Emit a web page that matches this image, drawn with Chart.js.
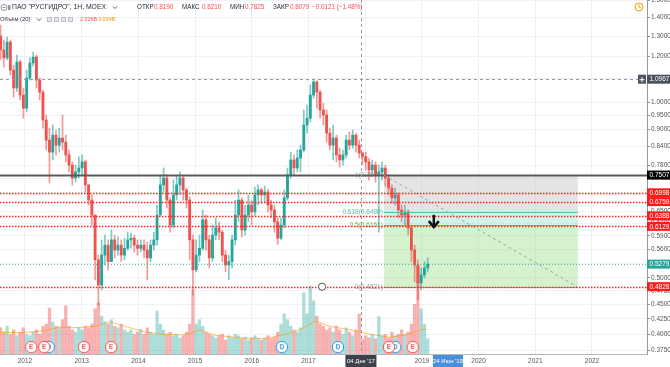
<!DOCTYPE html>
<html>
<head>
<meta charset="utf-8">
<script src="https://cdn.jsdelivr.net/npm/chart.js@4.4.1/dist/chart.umd.min.js"></script>
<style>
  html, body { margin: 0; padding: 0; background: #ffffff; }
  canvas { display: block; }
</style>
</head>
<body>
<canvas id="chart" width="670" height="367"></canvas>
<script>
const candleStart = 2011.57;
const candleStep = 0.0575;
const firstOpen = 1.30;

const closes = [
  1.231, 1.193, 1.270, 1.137, 1.059, 1.174, 1.030, 0.978, 1.102, 1.169,
  1.197, 1.093, 1.042, 0.933, 0.862, 0.822, 0.879, 0.845, 0.869, 0.855,
  0.813, 0.781, 0.742, 0.760, 0.772, 0.791, 0.722, 0.680, 0.641, 0.537,
  0.486, 0.547, 0.569, 0.533, 0.581, 0.558, 0.569, 0.547, 0.562, 0.581,
  0.585, 0.569, 0.562, 0.569, 0.558, 0.541, 0.569, 0.581, 0.641, 0.722,
  0.742, 0.680, 0.616, 0.694, 0.722, 0.742, 0.708, 0.680, 0.581, 0.516,
  0.547, 0.562, 0.629, 0.581, 0.541, 0.592, 0.609, 0.599, 0.547, 0.526,
  0.533, 0.581, 0.641, 0.680, 0.604, 0.641, 0.667, 0.649, 0.694, 0.708,
  0.694, 0.702, 0.667, 0.654, 0.624, 0.585, 0.616, 0.686, 0.751, 0.797,
  0.772, 0.803, 0.829, 0.915, 0.940, 1.030, 1.085, 1.042, 0.971, 0.952,
  0.886, 0.845, 0.869, 0.813, 0.797, 0.813, 0.862, 0.845, 0.879, 0.845,
  0.819, 0.8079, 0.791, 0.766, 0.781, 0.751, 0.760, 0.772, 0.742, 0.713,
  0.686, 0.694, 0.654, 0.641, 0.649, 0.609, 0.558, 0.526, 0.490, 0.506,
  0.520, 0.5279
];
const highs = [
  1.358, 1.280, 1.296, 1.280, 1.160, 1.207, 1.183, 1.059, 1.137, 1.193,
  1.221, 1.207, 1.102, 1.051, 0.952, 0.904, 0.915, 0.897, 0.904, 0.952,
  0.879, 0.829, 0.791, 0.781, 0.807, 0.813, 0.797, 0.722, 0.694, 0.641,
  0.547, 0.581, 0.592, 0.581, 0.604, 0.592, 0.588, 0.581, 0.585, 0.599,
  0.597, 0.592, 0.581, 0.581, 0.581, 0.576, 0.581, 0.599, 0.667, 0.751,
  0.772, 0.752, 0.686, 0.736, 0.751, 0.760, 0.748, 0.713, 0.688, 0.592,
  0.581, 0.592, 0.654, 0.641, 0.592, 0.616, 0.634, 0.624, 0.604, 0.558,
  0.547, 0.592, 0.680, 0.708, 0.686, 0.667, 0.694, 0.680, 0.716, 0.722,
  0.713, 0.719, 0.710, 0.680, 0.667, 0.634, 0.634, 0.708, 0.772, 0.822,
  0.813, 0.829, 0.845, 0.971, 0.990, 1.072, 1.097, 1.090, 1.051, 0.998,
  0.971, 0.904, 0.915, 0.879, 0.835, 0.829, 0.879, 0.890, 0.897, 0.885,
  0.862, 0.821, 0.822, 0.803, 0.797, 0.791, 0.781, 0.791, 0.781, 0.751,
  0.722, 0.713, 0.700, 0.667, 0.667, 0.654, 0.616, 0.569, 0.537, 0.520,
  0.533, 0.541
];
const lows = [
  1.183, 1.151, 1.183, 1.115, 1.022, 1.045, 1.010, 0.940, 0.965, 1.093,
  1.155, 1.059, 1.010, 0.904, 0.829, 0.728, 0.797, 0.813, 0.822, 0.829,
  0.791, 0.760, 0.722, 0.730, 0.742, 0.751, 0.702, 0.667, 0.616, 0.496,
  0.449, 0.477, 0.526, 0.516, 0.533, 0.541, 0.547, 0.533, 0.537, 0.558,
  0.562, 0.554, 0.547, 0.554, 0.541, 0.496, 0.533, 0.558, 0.569, 0.641,
  0.702, 0.659, 0.599, 0.609, 0.680, 0.694, 0.680, 0.659, 0.537, 0.467,
  0.512, 0.533, 0.558, 0.558, 0.520, 0.533, 0.581, 0.581, 0.533, 0.512,
  0.496, 0.520, 0.569, 0.624, 0.588, 0.592, 0.624, 0.616, 0.640, 0.667,
  0.672, 0.675, 0.649, 0.634, 0.599, 0.571, 0.581, 0.609, 0.680, 0.742,
  0.751, 0.760, 0.760, 0.822, 0.886, 0.926, 1.018, 0.978, 0.940, 0.915,
  0.855, 0.829, 0.797, 0.791, 0.775, 0.781, 0.803, 0.829, 0.835, 0.822,
  0.803, 0.7825, 0.766, 0.736, 0.748, 0.730, 0.599, 0.736, 0.719, 0.694,
  0.672, 0.667, 0.634, 0.624, 0.616, 0.592, 0.533, 0.492, 0.458, 0.477,
  0.500, 0.512
];
// volume, billions
const volumes = [
  3.6, 3.0, 3.8, 2.7, 3.3, 2.5, 3.0, 3.6, 2.7, 2.5,
  3.0, 3.3, 2.7, 3.8, 4.1, 6.3, 4.4, 3.8, 3.6, 4.7,
  6.6, 3.8, 3.3, 3.0, 3.6, 3.3, 3.8, 3.6, 4.1, 6.2,
  7.0, 5.2, 4.4, 4.1, 4.7, 3.8, 3.6, 4.1, 3.3, 3.0,
  3.3, 2.7, 3.0, 3.4, 2.7, 3.6, 3.0, 2.7, 5.9, 4.1,
  3.3, 2.7, 3.0, 2.5, 2.7, 2.2, 2.5, 3.0, 4.1, 8.8,
  4.1, 4.7, 3.8, 3.0, 2.7, 2.5, 2.2, 2.5, 2.7, 1.9,
  2.5, 2.2, 2.7, 2.5, 2.1, 2.3, 1.9, 2.2, 2.5, 2.1,
  1.9, 2.2, 2.5, 2.1, 2.3, 3.0, 4.1, 5.5, 4.7, 3.8,
  3.3, 3.0, 3.6, 8.4, 5.5, 9.3, 7.3, 5.2, 4.1, 3.8,
  3.3, 3.6, 3.0, 3.8, 3.3, 2.7, 3.6, 3.0, 2.5, 3.3,
  5.5, 2.0, 2.5, 2.2, 2.7, 2.1, 5.1, 2.5, 2.7, 2.2,
  3.0, 2.5, 2.7, 3.3, 2.7, 3.0, 4.1, 6.8, 12.0, 6.2,
  4.1, 2.1
];
// volume MA(20), read at a few dates
const maDates = [2011.56, 2011.91, 2012.35, 2012.62, 2012.88, 2013.24, 2013.50, 2013.76, 2014.12,
  2014.47, 2014.82, 2015.09, 2015.35, 2015.79, 2016.23, 2016.59, 2016.85, 2017.12, 2017.38,
  2017.73, 2018.09, 2018.44, 2018.70, 2018.97, 2019.09];
const maValues = [3.0, 2.9, 3.2, 3.7, 3.6, 3.8, 4.4, 3.8, 3.0,
  2.7, 2.6, 3.3, 2.6, 2.2, 2.1, 2.7, 3.3, 4.5, 3.8,
  3.3, 2.7, 2.3, 2.6, 3.3, 3.4];

const earningsDates = [2012.11, 2012.34, 2013.04, 2013.52, 2018.42, 2018.84];
const dividendDates = [2012.42, 2016.53, 2017.52, 2018.53];
const markerLevel = 0.95;

const yTicks = [1.5, 1.4, 1.3, 1.2, 1.1, 1.0, 0.95, 0.9, 0.84, 0.78, 0.74, 0.70, 0.65, 0.62,
  0.59, 0.56, 0.53, 0.50, 0.475, 0.45, 0.425, 0.40, 0.375];
const yearTicks = [2012, 2013, 2014, 2015, 2016, 2017, 2018, 2019, 2020, 2021, 2022];

// drawings
const redLevels = [0.6998, 0.6759, 0.6388, 0.6129, 0.4828];
const blackLevel = 0.7507;
const lastClose = 0.5279;
const fibLevels = ['1', '0.618', '0.5', '0'];
const fibPrices = [0.7507, 0.6480, 0.6161, 0.4821];
const fibColors = ['#9e9e9e', '#5cc0a8', '#7cb342', '#9e9e9e'];
const fibStart = 2018.33;
const fibEnd = 2021.75;
const crossDate = 2017.925;
const crossPrice = 1.0967;
const arrowDate = 2019.21;
const arrowTop = 0.642;
const arrowBottom = 0.611;
const ringDate = 2017.24;
const ringPrice = 0.4828;
const endDate = 2019.46;

const FONT = '"Liberation Sans", Arial, sans-serif';
const UP = '#26a69a';
const DOWN = '#ef5350';
Chart.defaults.font.family = FONT;

const dates = closes.map((c, i) => candleStart + i * candleStep);
const opens = closes.map((c, i) => (i === 0 ? firstOpen : closes[i - 1]));
const isUp = closes.map((c, i) => c >= opens[i]);

function makeIcon(letter, color) {
  const cv = document.createElement('canvas');
  cv.width = 14; cv.height = 14;
  const g = cv.getContext('2d');
  g.beginPath(); g.arc(7, 7, 5.7, 0, Math.PI * 2);
  g.fillStyle = '#fff'; g.fill();
  g.lineWidth = 1; g.strokeStyle = color; g.stroke();
  g.fillStyle = color; g.font = 'bold 6.5px ' + FONT;
  g.textAlign = 'center'; g.textBaseline = 'middle';
  g.fillText(letter, 7, 7.5);
  return cv;
}

const drawings = {
  id: 'drawings',
  beforeDatasetsDraw(chart) {
    const { ctx, scales: { x, y } } = chart;
    const x1 = x.getPixelForValue(fibStart);
    const x2 = x.getPixelForValue(fibEnd);
    const fy = fibPrices.map(p => y.getPixelForValue(p));
    ctx.save();
    ctx.fillStyle = 'rgba(190,190,190,0.42)';
    ctx.fillRect(x1, fy[0], x2 - x1, fy[1] - fy[0]);
    ctx.fillStyle = 'rgba(150,225,205,0.42)';
    ctx.fillRect(x1, fy[1], x2 - x1, fy[2] - fy[1]);
    ctx.fillStyle = 'rgba(150,220,130,0.4)';
    ctx.fillRect(x1, fy[2], x2 - x1, fy[3] - fy[2]);
    ctx.font = '6.5px ' + FONT;
    ctx.textAlign = 'right';
    ctx.textBaseline = 'middle';
    fibLevels.forEach((lv, i) => {
      ctx.fillStyle = fibColors[i];
      ctx.fillText(lv + '(' + fibPrices[i].toFixed(4) + ')', x1 - 1, fy[i]);
    });
    ctx.restore();
  },
  afterDatasetsDraw(chart) {
    const { ctx, chartArea: a, scales: { x, y } } = chart;
    const x1 = x.getPixelForValue(fibStart);
    const x2 = x.getPixelForValue(fibEnd);
    const fy = fibPrices.map(p => y.getPixelForValue(p));
    ctx.save();
    ctx.beginPath();
    ctx.rect(a.left, a.top, a.right - a.left, a.bottom - a.top);
    ctx.clip();

    const hline = (p, color, w, dash, from, to) => {
      const py = Math.round(y.getPixelForValue(p)) + 0.5;
      ctx.beginPath();
      ctx.setLineDash(dash);
      ctx.strokeStyle = color;
      ctx.lineWidth = w;
      ctx.moveTo(from, py);
      ctx.lineTo(to, py);
      ctx.stroke();
    };
    [1, 2, 3].forEach(i => hline(fibPrices[i], fibColors[i], 1, [], x1, x2));
    hline(lastClose, 'rgba(38,166,154,0.75)', 1, [1, 2], a.left, a.right);
    redLevels.forEach(p => hline(p, '#ff2020', 1.5, [1.5, 1.5], a.left, a.right));
    hline(blackLevel, '#5a5a5a', 2.2, [], a.left, a.right);

    // trend line across the fib box
    ctx.setLineDash([3, 3]);
    ctx.strokeStyle = '#a3a3a3';
    ctx.lineWidth = 1;
    ctx.beginPath();
    ctx.moveTo(x1, fy[0]);
    ctx.lineTo(x2, fy[3]);
    ctx.stroke();

    // down arrow
    const ax = x.getPixelForValue(arrowDate);
    const at = y.getPixelForValue(arrowTop);
    const ab = y.getPixelForValue(arrowBottom);
    ctx.setLineDash([]);
    ctx.strokeStyle = '#111';
    ctx.lineWidth = 2.4;
    ctx.beginPath();
    ctx.moveTo(ax, at); ctx.lineTo(ax, ab - 1.5);
    ctx.moveTo(ax - 5, ab - 6); ctx.lineTo(ax, ab); ctx.lineTo(ax + 5, ab - 6);
    ctx.stroke();

    // small ring on the support line
    ctx.beginPath();
    ctx.arc(x.getPixelForValue(ringDate), y.getPixelForValue(ringPrice), 3.6, 0, Math.PI * 2);
    ctx.fillStyle = '#fff';
    ctx.fill();
    ctx.lineWidth = 1;
    ctx.strokeStyle = '#555';
    ctx.stroke();

    // crosshair
    const cx = Math.round(x.getPixelForValue(crossDate)) + 0.5;
    const cy = Math.round(y.getPixelForValue(crossPrice)) + 0.5;
    ctx.setLineDash([3, 3]);
    ctx.strokeStyle = '#9598a1';
    ctx.lineWidth = 1;
    ctx.beginPath();
    ctx.moveTo(cx, a.top); ctx.lineTo(cx, a.bottom);
    ctx.moveTo(a.left, cy); ctx.lineTo(a.right, cy);
    ctx.stroke();
    ctx.restore();
  },
  afterDraw(chart) {
    const { ctx, chartArea: a, scales: { x, y } } = chart;
    ctx.save();
    ctx.font = '6.5px ' + FONT;
    ctx.textBaseline = 'middle';
    ctx.textAlign = 'left';

    const priceTag = (p, bg, txt) => {
      const py = y.getPixelForValue(p);
      ctx.fillStyle = bg;
      ctx.fillRect(a.right, py - 4.5, 23, 9);
      ctx.fillStyle = '#fff';
      ctx.fillText(txt, a.right + 2.5, py + 0.5);
    };
    priceTag(crossPrice, '#4c525e', crossPrice.toFixed(4));
    const cpy = y.getPixelForValue(crossPrice);
    ctx.fillStyle = '#4c525e';
    ctx.fillRect(a.right - 9, cpy - 4.5, 8, 9);
    ctx.strokeStyle = '#fff';
    ctx.lineWidth = 1;
    ctx.beginPath();
    ctx.moveTo(a.right - 7.5, cpy + 0.5); ctx.lineTo(a.right - 2.5, cpy + 0.5);
    ctx.moveTo(a.right - 5, cpy - 2); ctx.lineTo(a.right - 5, cpy + 3);
    ctx.stroke();
    priceTag(blackLevel, '#000', blackLevel.toFixed(4));
    redLevels.forEach(p => priceTag(p, '#ff1a1a', p.toFixed(4)));
    priceTag(lastClose, '#26a69a', lastClose.toFixed(4));

    // time labels under the axis
    const timeTag = (d, bg, txt, w) => {
      const px = x.getPixelForValue(d);
      ctx.fillStyle = bg;
      ctx.fillRect(px - w / 2, a.bottom + 1, w, 12);
      ctx.fillStyle = '#fff';
      ctx.textAlign = 'center';
      ctx.font = '6px ' + FONT;
      ctx.fillText(txt, px, a.bottom + 7.5);
      ctx.textAlign = 'left';
    };
    timeTag(crossDate, '#3d414c', "04 Дек '17", 31);
    timeTag(endDate, '#4a8fdb', "24 Июн '19", 30);

    // legend header
    const put = (txt, px, py, color, size) => {
      ctx.font = size + 'px ' + FONT;
      ctx.fillStyle = color;
      ctx.fillText(txt, px, py);
    };
    const ink = '#2a2e39';
    ctx.strokeStyle = '#787b86';
    ctx.lineWidth = 0.8;
    ctx.beginPath(); ctx.arc(4, 7.5, 3, 0, Math.PI * 2); ctx.stroke();
    ctx.beginPath(); ctx.moveTo(2.5, 7.5); ctx.lineTo(5.5, 7.5); ctx.stroke();
    ctx.fillStyle = '#9598a1';
    ctx.fillRect(8, 5, 2.5, 5);
    put('ПАО "РУСГИДРО", 1Н, MOEX', 12, 7.5, ink, 6.8);
    ctx.beginPath(); ctx.moveTo(113, 6.5); ctx.lineTo(115, 8.5); ctx.lineTo(117, 6.5); ctx.strokeStyle = ink; ctx.stroke();
    put('ОТКР', 137, 7.5, ink, 6.3);
    put('0.8190', 154, 7.5, DOWN, 6.3);
    put('МАКС', 182, 7.5, ink, 6.3);
    put('0.8210', 202, 7.5, DOWN, 6.3);
    put('МИН', 230, 7.5, ink, 6.3);
    put('0.7825', 245, 7.5, DOWN, 6.3);
    put('ЗАКР', 273, 7.5, ink, 6.3);
    put('0.8079', 290, 7.5, DOWN, 6.3);
    put('\u22120.0121 (\u22121.48%)', 312, 7.5, DOWN, 6.3);

    put('Объём (20)', 0, 19.5, ink, 5.8);
    ctx.beginPath(); ctx.moveTo(37, 18.5); ctx.lineTo(39, 20.5); ctx.lineTo(41, 18.5); ctx.strokeStyle = ink; ctx.stroke();
    [47, 54, 61, 68].forEach(px => {
      ctx.fillStyle = '#e6e8ee';
      ctx.fillRect(px, 17, 5, 5);
      ctx.strokeStyle = '#b2b5be';
      ctx.strokeRect(px + 0.5, 17.5, 4, 4);
    });
    put('2.026B', 80, 19.5, DOWN, 5.4);
    put('3.034B', 98, 19.5, '#ff9800', 5.4);

    // clock icon
    ctx.strokeStyle = '#ff9800';
    ctx.lineWidth = 1;
    ctx.beginPath(); ctx.arc(639, 7, 4, 0, Math.PI * 2); ctx.stroke();
    ctx.beginPath(); ctx.moveTo(639, 4.5); ctx.lineTo(639, 7); ctx.lineTo(641, 8); ctx.stroke();
    ctx.restore();
  }
};

const cfg = {
  type: 'bar',
  data: {
    datasets: [
      {
        type: 'scatter', label: 'E', yAxisID: 'y2', order: 0,
        data: earningsDates.map(d => ({ x: d, y: markerLevel })),
        pointStyle: makeIcon('E', '#f05454'), pointRadius: 6
      },
      {
        type: 'scatter', label: 'D', yAxisID: 'y2', order: 1,
        data: dividendDates.map(d => ({ x: d, y: markerLevel })),
        pointStyle: makeIcon('D', '#2196f3'), pointRadius: 6
      },
      {
        label: 'bodies', yAxisID: 'y', order: 2, grouped: false,
        data: dates.map((d, i) => ({ x: d, y: [opens[i], closes[i]] })),
        backgroundColor: isUp.map(u => (u ? UP : DOWN)),
        barThickness: 2.2, borderWidth: 0
      },
      {
        label: 'wicks', yAxisID: 'y', order: 3, grouped: false,
        data: dates.map((d, i) => ({ x: d, y: [lows[i], highs[i]] })),
        backgroundColor: isUp.map(u => (u ? 'rgba(38,166,154,0.6)' : 'rgba(239,83,80,0.6)')),
        barThickness: 1, borderWidth: 0
      },
      {
        type: 'line', label: 'MA', yAxisID: 'y2', order: 4,
        data: maDates.map((d, i) => ({ x: d, y: maValues[i] })),
        borderColor: 'rgba(255,152,0,0.6)', borderWidth: 1, pointRadius: 0, tension: 0
      },
      {
        label: 'volume', yAxisID: 'y2', order: 5, grouped: false,
        data: dates.map((d, i) => ({ x: d, y: volumes[i] })),
        backgroundColor: isUp.map(u => (u ? 'rgba(38,166,154,0.38)' : 'rgba(239,83,80,0.45)')),
        barThickness: 2.6, borderWidth: 0
      }
    ]
  },
  options: {
    responsive: false,
    animation: false,
    layout: { padding: 0, autoPadding: false },
    plugins: { legend: { display: false }, tooltip: { enabled: false } },
    scales: {
      x: {
        type: 'linear', min: 2011.56, max: 2022.97, offset: false,
        grid: { color: '#eef1f6', drawTicks: false, offset: false },
        border: { color: '#b2b5be' },
        ticks: {
          font: { size: 6.5 }, color: '#555', padding: 3, maxRotation: 0, autoSkip: false,
          callback: v => String(v)
        },
        afterBuildTicks: s => { s.ticks = yearTicks.map(v => ({ value: v })); },
        afterFit: s => { s.height = 13; s.paddingLeft = 0; s.paddingRight = 0; }
      },
      y: {
        type: 'logarithmic', position: 'right', min: 0.370, max: 1.5,
        grid: { color: '#eef1f6', tickLength: 3, tickColor: '#9598a1' },
        border: { color: '#9598a1' },
        ticks: {
          font: { size: 6.5 }, color: '#555', padding: 1, autoSkip: false,
          callback: v => Number(v).toFixed(4)
        },
        afterBuildTicks: s => { s.ticks = yTicks.map(v => ({ value: v })); },
        afterFit: s => { s.width = 23; s.paddingTop = 0; s.paddingBottom = 0; }
      },
      y2: { type: 'linear', display: false, min: 0, max: 48.5 }
    }
  },
  plugins: [drawings]
};

new Chart(document.getElementById('chart'), cfg);
</script>
</body>
</html>
